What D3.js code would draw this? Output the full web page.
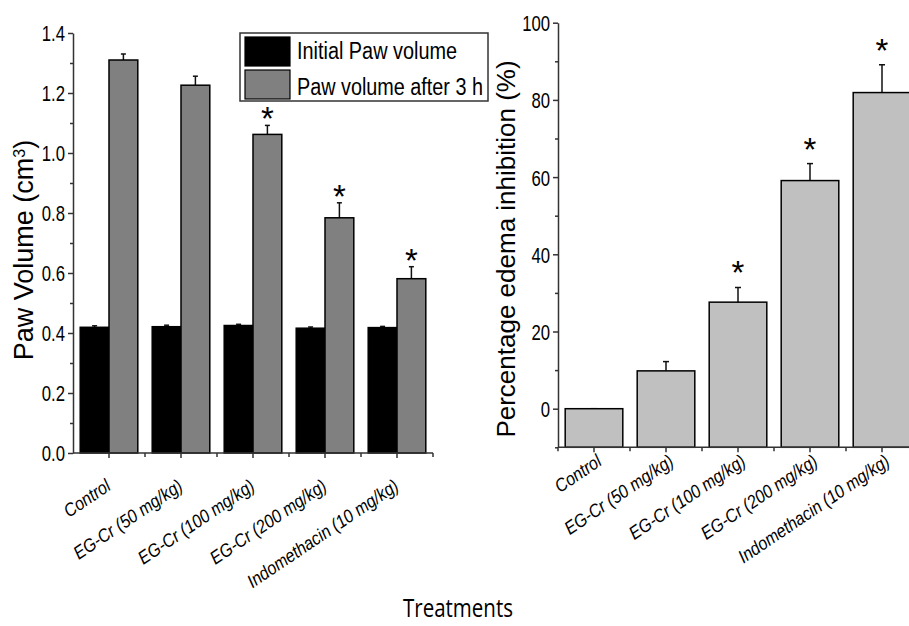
<!DOCTYPE html>
<html>
<head>
<meta charset="utf-8">
<script src="https://cdn.jsdelivr.net/npm/d3@7"></script>
<style>
  body { margin: 0; background: #fff; }
  svg { display: block; }
  .tick text { font-family: 'Liberation Sans', Arial, sans-serif; fill: #000; }
  .axis path, .axis line { stroke: #333; stroke-width: 1.5; }
  .xlab { font-family: 'Liberation Sans', Arial, sans-serif; font-style: italic; font-size: 18.5px; }
</style>
</head>
<body>
<svg width="909" height="626"></svg>
<script>
var categories = ["Control", "EG-Cr (50 mg/kg)", "EG-Cr (100 mg/kg)", "EG-Cr (200 mg/kg)", "Indomethacin (10 mg/kg)"];
var seriesNames = ["Initial Paw volume", "Paw volume after 3 h"];
var initialVol = [0.419, 0.421, 0.425, 0.416, 0.418];
var initialErr = [0.005, 0.005, 0.004, 0.004, 0.004];
var after3h = [1.31, 1.226, 1.062, 0.784, 0.581];
var after3hErr = [0.02, 0.03, 0.03, 0.05, 0.04];
var after3hSig = [false, false, true, true, true];
var inhibition = [0, 9.8, 27.6, 59.1, 81.9];
var inhibitionErr = [0, 2.4, 3.8, 4.4, 7.2];
var inhibitionSig = [false, false, true, true, true];
var leftTicks = [0, 0.2, 0.4, 0.6, 0.8, 1.0, 1.2, 1.4];
var rightTicks = [0, 20, 40, 60, 80, 100];

var svg = d3.select("svg");

// squeeze axis numbers like the narrow font of the original
var narrowTicks = function(sel){
  sel.selectAll(".tick text")
    .style("font-size", "22px")
    .attr("dy", "0.36em")
    .attr("x", 0)
    .attr("transform", "translate(-8,0) scale(0.76,1)");
};

// ---------- left chart ----------
var x1 = d3.scaleBand().domain(categories).range([73, 433]).paddingInner(0.2).paddingOuter(0.1);
var sub = d3.scaleBand().domain([0, 1]).range([0, x1.bandwidth()]);
var y1 = d3.scaleLinear().domain([0, 1.4]).range([453, 33]);

var left = svg.append("g");

var groups = left.selectAll("g.grp")
  .data(categories)
  .enter().append("g")
  .attr("class", "grp")
  .attr("transform", function(d){ return "translate(" + x1(d) + ",0)"; });

var drawBar = function(sel, vals, errs, idx, fill){
  var cx = sub(idx) + sub.bandwidth()/2;
  sel.append("line")
    .attr("x1", cx).attr("x2", cx)
    .attr("y1", function(d, i){ return y1(vals[i]); })
    .attr("y2", function(d, i){ return y1(vals[i] + errs[i]); })
    .attr("stroke", "#111").attr("stroke-width", 1.5);
  sel.append("line")
    .attr("x1", cx - 2.5).attr("x2", cx + 2.5)
    .attr("y1", function(d, i){ return y1(vals[i] + errs[i]); })
    .attr("y2", function(d, i){ return y1(vals[i] + errs[i]); })
    .attr("stroke", "#111").attr("stroke-width", 1.5);
  sel.append("rect")
    .attr("x", sub(idx))
    .attr("width", sub.bandwidth())
    .attr("y", function(d, i){ return y1(vals[i]); })
    .attr("height", function(d, i){ return y1(0) - y1(vals[i]); })
    .attr("fill", fill).attr("stroke", "#000").attr("stroke-width", 1.5);
};
drawBar(groups, initialVol, initialErr, 0, "#000");
drawBar(groups, after3h, after3hErr, 1, "#808080");

groups.filter(function(d, i){ return after3hSig[i]; })
  .append("text")
  .attr("x", sub(1) + sub.bandwidth()/2)
  .attr("y", function(d){ var i = categories.indexOf(d); return y1(after3h[i] + after3hErr[i]) - 13 + 18; })
  .attr("text-anchor", "middle")
  .style("font-family", "Arial, sans-serif").style("font-size", "33px")
  .text("*");

// axes
var yMinor1 = leftTicks.slice(1).map(function(t){ return t - 0.1; });
left.append("g").attr("class", "axis").attr("transform", "translate(73,0)")
  .call(d3.axisLeft(y1).tickValues(yMinor1).tickSize(3).tickFormat(""))
  .select(".domain").remove();
left.append("g").attr("class", "axis").attr("transform", "translate(73,0)")
  .call(d3.axisLeft(y1).tickValues(leftTicks).tickFormat(d3.format(".1f")).tickSize(5).tickSizeOuter(0))
  .call(narrowTicks);

var xb1 = left.append("g").attr("class", "axis").attr("transform", "translate(0,453)");
xb1.append("line").attr("x1", 73).attr("x2", 433).attr("y1", 0).attr("y2", 0);
xb1.selectAll("line.tk")
  .data(categories)
  .enter().append("line").attr("class", "tk")
  .attr("x1", function(d){ return x1(d) + x1.bandwidth()/2; })
  .attr("x2", function(d){ return x1(d) + x1.bandwidth()/2; })
  .attr("y1", 0).attr("y2", 5);
xb1.selectAll("line.tb")
  .data(categories)
  .enter().append("line").attr("class", "tb")
  .attr("x1", function(d){ return x1(d) + x1.step() - x1.step()*0.1; })
  .attr("x2", function(d){ return x1(d) + x1.step() - x1.step()*0.1; })
  .attr("y1", 0).attr("y2", 4);
xb1.selectAll("text")
  .data(categories)
  .enter().append("text").attr("class", "xlab")
  .attr("text-anchor", "end")
  .attr("transform", function(d){ return "translate(" + (x1(d) + x1.bandwidth()/2 + 3) + ",36) rotate(-34) scale(0.87,1)"; })
  .text(function(d){ return d; });

// left y title
left.append("text")
  .attr("transform", "translate(33,250) rotate(-90)")
  .attr("text-anchor", "middle")
  .style("font-family", "'Liberation Sans', Arial, sans-serif").style("font-size", "27px")
  .text("Paw Volume (cm")
  .append("tspan").attr("baseline-shift", "super").style("font-size", "16px").text("3")
  .select(function(){ return this.parentNode; })
  .append("tspan").text(")");

// legend
var leg = left.append("g");
leg.append("rect").attr("x", 240).attr("y", 33).attr("width", 248).attr("height", 68)
  .attr("fill", "#fff").attr("stroke", "#333").attr("stroke-width", 1.5);
var legColors = ["#000", "#808080"];
var legWidths = [160, 186];
seriesNames.forEach(function(name, i){
  leg.append("rect").attr("x", 245).attr("y", 37 + i*33).attr("width", 45).attr("height", 29)
    .attr("fill", legColors[i]).attr("stroke", "#000").attr("stroke-width", 1.2);
  leg.append("text").attr("x", 297).attr("y", 59 + i*36)
    .attr("textLength", legWidths[i]).attr("lengthAdjust", "spacingAndGlyphs")
    .style("font-family", "'Liberation Sans', Arial, sans-serif")
    .style("font-size", "23px")
    .text(name);
});

// ---------- right chart ----------
var x2 = d3.scaleBand().domain(categories).range([558, 918]).paddingInner(0.2).paddingOuter(0.1);
var y2 = d3.scaleLinear().domain([-10, 100]).range([447.3, 22.7]);
var right = svg.append("g");

var bars2 = right.selectAll("g.b2")
  .data(categories)
  .enter().append("g").attr("class", "b2");
bars2.append("line")
  .attr("x1", function(d){ return x2(d) + x2.bandwidth()/2; })
  .attr("x2", function(d){ return x2(d) + x2.bandwidth()/2; })
  .attr("y1", function(d, i){ return y2(inhibition[i]); })
  .attr("y2", function(d, i){ return y2(inhibition[i] + inhibitionErr[i]); })
  .attr("stroke", "#111").attr("stroke-width", 1.5);
bars2.append("line")
  .attr("x1", function(d){ return x2(d) + x2.bandwidth()/2 - 3; })
  .attr("x2", function(d){ return x2(d) + x2.bandwidth()/2 + 3; })
  .attr("y1", function(d, i){ return y2(inhibition[i] + inhibitionErr[i]); })
  .attr("y2", function(d, i){ return y2(inhibition[i] + inhibitionErr[i]); })
  .attr("stroke", "#111").attr("stroke-width", 1.5);
bars2.append("rect")
  .attr("x", function(d){ return x2(d); })
  .attr("width", x2.bandwidth())
  .attr("y", function(d, i){ return y2(inhibition[i]); })
  .attr("height", function(d, i){ return y2(-10) - y2(inhibition[i]); })
  .attr("fill", "#c0c0c0").attr("stroke", "#000").attr("stroke-width", 1.5);
bars2.filter(function(d, i){ return inhibitionSig[i]; })
  .append("text")
  .attr("x", function(d){ return x2(d) + x2.bandwidth()/2; })
  .attr("y", function(d){ var i = categories.indexOf(d); return y2(inhibition[i] + inhibitionErr[i]) - 21 + 18; })
  .attr("text-anchor", "middle")
  .style("font-family", "Arial, sans-serif").style("font-size", "33px")
  .text("*");

var yMinor2 = d3.range(-10, 100, 20);
right.append("g").attr("class", "axis").attr("transform", "translate(558,0)")
  .call(d3.axisLeft(y2).tickValues(yMinor2).tickSize(3).tickFormat(""))
  .select(".domain").remove();
right.append("g").attr("class", "axis").attr("transform", "translate(558,0)")
  .call(d3.axisLeft(y2).tickValues(rightTicks).tickFormat(d3.format("d")).tickSize(5).tickSizeOuter(0))
  .call(narrowTicks);

var xb2 = right.append("g").attr("class", "axis").attr("transform", "translate(0,447.3)");
xb2.append("line").attr("x1", 558).attr("x2", 918).attr("y1", 0).attr("y2", 0);
xb2.selectAll("line.tk")
  .data(categories)
  .enter().append("line").attr("class", "tk")
  .attr("x1", function(d){ return x2(d) + x2.bandwidth()/2; })
  .attr("x2", function(d){ return x2(d) + x2.bandwidth()/2; })
  .attr("y1", 0).attr("y2", 5);
xb2.selectAll("line.tb")
  .data(categories)
  .enter().append("line").attr("class", "tb")
  .attr("x1", function(d){ return x2(d) - x2.step()*0.1; })
  .attr("x2", function(d){ return x2(d) - x2.step()*0.1; })
  .attr("y1", 0).attr("y2", 4);
xb2.selectAll("text")
  .data(categories)
  .enter().append("text").attr("class", "xlab")
  .attr("text-anchor", "end")
  .attr("transform", function(d){ return "translate(" + (x2(d) + x2.bandwidth()/2 + 9) + ",17) rotate(-34) scale(0.87,1)"; })
  .text(function(d){ return d; });

right.append("text")
  .attr("transform", "translate(515,249) rotate(-90)")
  .attr("text-anchor", "middle")
  .style("font-family", "'Liberation Sans', Arial, sans-serif").style("font-size", "26px")
  .text("Percentage edema inhibition (%)");

// shared x title
svg.append("text")
  .attr("x", 458).attr("y", 617)
  .attr("text-anchor", "middle")
  .attr("textLength", 110).attr("lengthAdjust", "spacingAndGlyphs")
  .style("font-family", "'Open Sans', sans-serif").style("font-size", "25px")
  .text("Treatments");
</script>
</body>
</html>
